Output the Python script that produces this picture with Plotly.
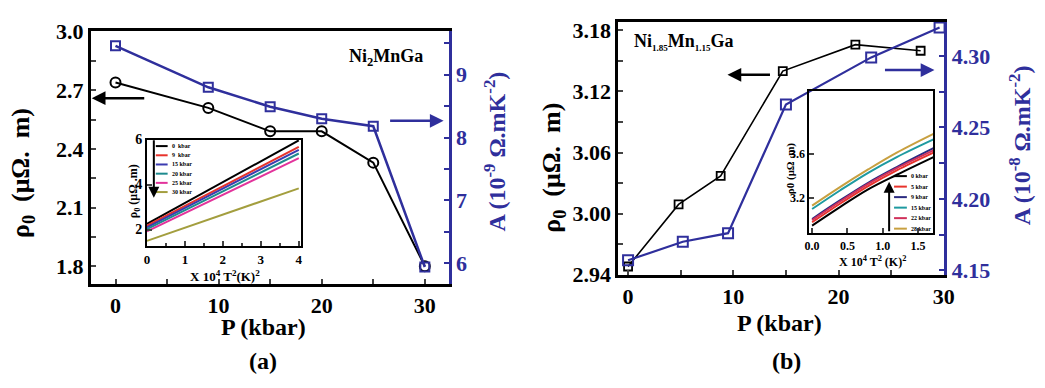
import plotly.graph_objects as go

W, H = 1045, 388
BLUE = "#2f2f9c"
FONT = "Times New Roman, Liberation Serif, Tinos, serif"

# ---------------- data ----------------
# Panel (a) Ni2MnGa
P_a = [0, 9, 15, 20, 25, 30]
rho_a = [2.74, 2.61, 2.49, 2.49, 2.33, 1.80]
A_a = [9.46, 8.80, 8.49, 8.30, 8.18, 5.94]

# Panel (b) Ni1.85Mn1.15Ga
P_b_rho = [0, 4.8, 8.8, 14.7, 21.6, 27.8]
rho_b = [2.948, 3.009, 3.037, 3.140, 3.166, 3.160]
P_b_A = [0, 5.2, 9.5, 15.0, 23.1, 29.6]
A_b = [4.157, 4.170, 4.176, 4.266, 4.299, 4.320]

# Inset (a)
inset_a_labels = ["0  kbar", "9  kbar", "15 kbar", "20 kbar", "25 kbar", "30 kbar"]
inset_a_colors = ["#000000", "#e8332c", "#3b3bb0", "#1e8a8e", "#e2339b", "#a39e3e"]
inset_a_x = [0, 4]
inset_a_y0 = [2.25, 2.17, 2.10, 2.02, 1.92, 1.50]
inset_a_y4 = [5.96, 5.67, 5.54, 5.38, 5.17, 3.83]

# Inset (b)
inset_b_labels = ["0 kbar", "5 kbar", "9 kbar", "15 kbar", "22 kbar", "28 kbar"]
inset_b_colors = ["#000000", "#e8332c", "#2a2a80", "#1e9aa0", "#d0305a", "#c8a040"]
inset_b_x = [0, 0.4, 0.8, 1.2, 1.72]
inset_b_0 = [2.95, 3.12, 3.28, 3.41, 3.57]
inset_b_5 = [2.98, 3.15, 3.31, 3.45, 3.61]
inset_b_9 = [3.01, 3.18, 3.34, 3.48, 3.65]
inset_b_15 = [3.10, 3.27, 3.43, 3.57, 3.73]
inset_b_22 = [3.00, 3.17, 3.33, 3.47, 3.63]
inset_b_28 = [3.13, 3.30, 3.46, 3.61, 3.78]
inset_b_y = [inset_b_0, inset_b_5, inset_b_9, inset_b_15, inset_b_22, inset_b_28]


def fx(px):
    return px / W


def fy(py):
    return 1 - py / H


fig = go.Figure()

# main (a)
fig.add_trace(go.Scatter(x=P_a, y=rho_a, xaxis="x", yaxis="y", mode="lines+markers",
                         line=dict(color="black", width=2),
                         marker=dict(symbol="circle-open", size=10, color="black", line=dict(width=2)),
                         cliponaxis=False))
fig.add_trace(go.Scatter(x=P_a, y=A_a, xaxis="x", yaxis="y2", mode="lines+markers",
                         line=dict(color=BLUE, width=2.5),
                         marker=dict(symbol="square-open", size=9, color=BLUE, line=dict(width=2)),
                         cliponaxis=False))
# main (b)
fig.add_trace(go.Scatter(x=P_b_rho, y=rho_b, xaxis="x3", yaxis="y3", mode="lines+markers",
                         line=dict(color="black", width=1.6),
                         marker=dict(symbol="square-open", size=8, color="black", line=dict(width=1.8)),
                         cliponaxis=False))
fig.add_trace(go.Scatter(x=P_b_A, y=A_b, xaxis="x3", yaxis="y4", mode="lines+markers",
                         line=dict(color=BLUE, width=2.2),
                         marker=dict(symbol="square-open", size=10, color=BLUE, line=dict(width=2)),
                         cliponaxis=False))
# inset (a)
for i in range(len(inset_a_labels)):
    fig.add_trace(go.Scatter(x=inset_a_x, y=[inset_a_y0[i], inset_a_y4[i]], xaxis="x5", yaxis="y5",
                             mode="lines", line=dict(color=inset_a_colors[i], width=2)))
# inset (b)
for i in range(len(inset_b_labels)):
    fig.add_trace(go.Scatter(x=inset_b_x, y=inset_b_y[i], xaxis="x6", yaxis="y6",
                             mode="lines", line=dict(color=inset_b_colors[i], width=2, shape="spline")))

tf = dict(family=FONT, size=22, color="black", weight="bold")
tfb = dict(family=FONT, size=22, color=BLUE, weight="bold")
common = dict(showgrid=False, zeroline=False, showline=True, ticks="inside", ticklen=5, tickwidth=2)

layout = dict(
    width=W, height=H, margin=dict(l=0, r=0, t=0, b=0),
    paper_bgcolor="white", plot_bgcolor="rgba(0,0,0,0)", showlegend=False,
    xaxis=dict(domain=[fx(87), fx(450)], range=[-2.4, 32.3], anchor="y", mirror=True,
               linecolor="black", linewidth=2.5, tickvals=[0, 10, 20, 30], tickfont=tf,
               minor=dict(tickvals=[5, 15, 25], ticks="inside", ticklen=5, tickwidth=2), **common),
    yaxis=dict(domain=[fy(291), fy(21)], range=[1.709, 3.005], anchor="x",
               linecolor="black", linewidth=2.5, tickvals=[1.8, 2.1, 2.4, 2.7, 3.0],
               ticktext=["1.8", "2.1", "2.4", "2.7", "3.0"], tickfont=tf,
               minor=dict(tickvals=[1.95, 2.25, 2.55, 2.85], ticks="inside", ticklen=5, tickwidth=2), **common),
    yaxis2=dict(overlaying="y", side="right", anchor="x", range=[5.67, 9.70],
                linecolor=BLUE, linewidth=3, tickcolor=BLUE, tickvals=[6, 7, 8, 9], tickfont=tfb,
                minor=dict(tickvals=[6.5, 7.5, 8.5, 9.5], ticks="inside", ticklen=5, tickwidth=2, tickcolor=BLUE),
                **common),
    xaxis3=dict(domain=[fx(622), fx(953)], range=[-0.95, 30.05], anchor="y3", mirror=True,
                linecolor="black", linewidth=2.5, tickvals=[0, 10, 20, 30], tickfont=tf,
                minor=dict(tickvals=[5, 15, 25], ticks="inside", ticklen=5, tickwidth=2), **common),
    yaxis3=dict(domain=[fy(281), fy(12)], range=[2.94, 3.188], anchor="x3",
                linecolor="black", linewidth=2.5, tickvals=[2.94, 3.00, 3.06, 3.12, 3.18],
                ticktext=["2.94", "3.00", "3.06", "3.12", "3.18"], tickfont=tf,
                minor=dict(tickvals=[2.97, 3.03, 3.09, 3.15], ticks="inside", ticklen=5, tickwidth=2), **common),
    yaxis4=dict(overlaying="y3", side="right", anchor="x3", range=[4.147, 4.3236],
                linecolor=BLUE, linewidth=3, tickcolor=BLUE, tickvals=[4.15, 4.20, 4.25, 4.30],
                ticktext=["4.15", "4.20", "4.25", "4.30"], tickfont=tfb,
                minor=dict(tickvals=[4.175, 4.225, 4.275], ticks="inside", ticklen=5, tickwidth=2, tickcolor=BLUE),
                **common),
    xaxis5=dict(domain=[fx(144), fx(300)], range=[0, 4.05], anchor="y5", mirror=True,
                linecolor="black", linewidth=2, tickvals=[0, 1, 2, 3, 4],
                tickfont=dict(family=FONT, size=13, color="black", weight="bold"),
                minor=dict(tickvals=[0.5, 1.5, 2.5, 3.5], ticks="inside", ticklen=3), **common),
    yaxis5=dict(domain=[fy(251), fy(137)], range=[1.25, 6.0], anchor="x5", mirror=True,
                linecolor="black", linewidth=2, tickvals=[2, 4, 6],
                tickfont=dict(family=FONT, size=14, color="black", weight="bold"), **common),
    xaxis6=dict(domain=[fx(816), fx(942)], range=[-0.04, 1.72], anchor="y6", mirror=True,
                linecolor="black", linewidth=2, tickvals=[0, 0.5, 1.0, 1.5],
                ticktext=["0.0", "0.5", "1.0", "1.5"],
                tickfont=dict(family=FONT, size=12, color="black", weight="bold"), **common),
    yaxis6=dict(domain=[fy(237), fy(85)], range=[2.88, 4.17], anchor="x6", mirror=True,
                linecolor="black", linewidth=2, tickvals=[3.2, 3.6], ticktext=["3.2", "3.6"],
                tickfont=dict(family=FONT, size=12, color="black", weight="bold"), **common),
)
fig.update_layout(**layout)

ann = []


def text(x, y, s, size, color="black", angle=0, xanchor="center"):
    ann.append(dict(x=fx(x), y=fy(y), xref="paper", yref="paper", text=s, showarrow=False,
                    textangle=angle, xanchor=xanchor, yanchor="middle",
                    font=dict(family=FONT, size=size, color=color, weight="bold")))


def arrow(xt, yt, ax, ay, color, width=2.5):
    ann.append(dict(x=fx(xt), y=fy(yt), xref="paper", yref="paper", text="", showarrow=True,
                    ax=ax, ay=ay, arrowhead=2, arrowsize=1.1, arrowwidth=width, arrowcolor=color,
                    standoff=0, startstandoff=0))


# titles panel (a)
text(18, 173, "ρ<sub>0</sub>  (μΩ.  m)", 26, angle=-90)
text(497, 150, "A (10<sup>-9</sup> Ω.mK<sup>-2</sup>)", 24, color=BLUE, angle=-90)
text(262, 337, "P (kbar)", 24)
text(262, 373, "(a)", 24)
text(387, 50, "Ni<sub>2</sub>MnGa", 18)
# titles panel (b)
text(556, 167, "ρ<sub>0</sub>  (μΩ.  m)", 26, angle=-90)
text(1030, 143, "A (10<sup>-8</sup> Ω.mK<sup>-2</sup>)", 24, color=BLUE, angle=-90)
text(786, 333, "P (kbar)", 24)
text(793, 373, "(b)", 24)
text(636, 33, "Ni<sub><span style='font-size:9px'>1.85</span></sub>Mn<sub><span style='font-size:9px'>1.15</span></sub>Ga",
     18, xanchor="left")

# inset titles
text(131, 192, "ρ<sub>0</sub> (μΩ .m)", 12, angle=-90)
text(223, 282, "X 10<sup>4</sup> T<sup>2</sup>(K)<sup>2</sup>", 13)
text(797, 168, "ρ0 (μΩ .m)", 11, angle=-90)
text(880, 267, "X 10<sup>4</sup> T<sup>2</sup> (K)<sup>2</sup>", 12)

# arrows
arrow(88, 93, 54, 0, "black")
arrow(445, 117, -55, 0, BLUE)
arrow(733, 68, 44, 0, "black")
arrow(943, 63, -51, 0, BLUE)
arrow(151, 199, 0, -59, "black", 2)
arrow(897, 182, 0, 51, "black", 2)

# inset legends
shapes = []
for i, lab in enumerate(inset_a_labels):
    yy = 144 + i * 9.8
    shapes.append(dict(type="line", xref="paper", yref="paper", x0=fx(153), x1=fx(165), y0=fy(yy), y1=fy(yy),
                       line=dict(color=inset_a_colors[i], width=2)))
    text(167, yy, lab, 6, xanchor="left")
for i, lab in enumerate(inset_b_labels):
    yy = 176 + i * 11.2
    shapes.append(dict(type="line", xref="paper", yref="paper", x0=fx(902), x1=fx(915), y0=fy(yy), y1=fy(yy),
                       line=dict(color=inset_b_colors[i], width=2)))
    text(917, yy, lab, 6, xanchor="left")

fig.update_layout(annotations=ann, shapes=shapes)
fig.write_html("out.html")
